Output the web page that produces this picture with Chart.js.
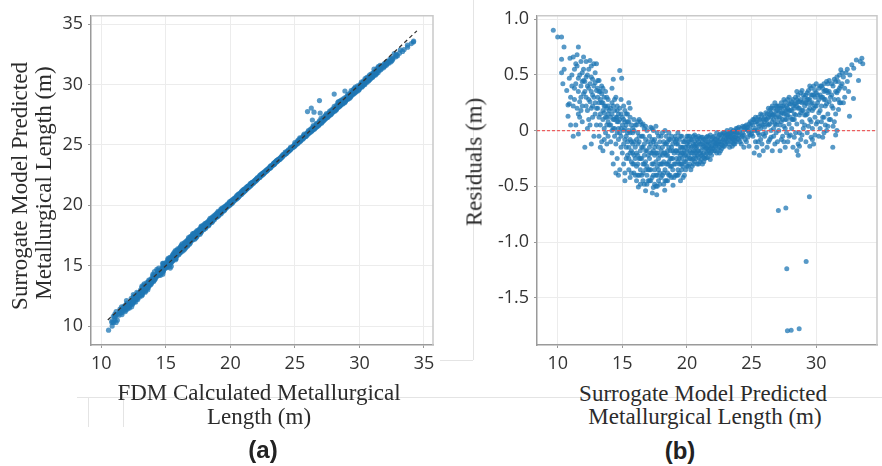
<!DOCTYPE html>
<html>
<head>
<meta charset="utf-8">
<script src="https://cdn.jsdelivr.net/npm/chart.js@4.4.1/dist/chart.umd.min.js"></script>
<style>
  body { margin: 0; background: #fff; }
  #wrap { position: relative; width: 882px; height: 466px; overflow: hidden; }
  canvas { position: absolute; top: 0; }
  .ttl { position: absolute; font-family: "Liberation Serif", "Times New Roman", serif; font-size: 23px; color: #2b2b2b; white-space: nowrap; line-height: 1; transform: translate(-50%, -50%); }
  .rot { transform: translate(-50%, -50%) rotate(-90deg); }
  .lab { position: absolute; font-family: "Liberation Sans", Arial, sans-serif; font-weight: bold; font-size: 24px; color: #222; transform: translate(-50%, -50%); }
  .ln { position: absolute; background: #e4e4e4; }
</style>
</head>
<body>
<div id="wrap">
  <div class="ln" style="left:77px;top:397px;width:805px;height:1px"></div>
  <div class="ln" style="left:88px;top:397px;width:1px;height:30px"></div>
  <div class="ln" style="left:123px;top:397px;width:1px;height:30px"></div>
  <div class="ln" style="left:473px;top:0px;width:1px;height:360px"></div>
  <div class="ln" style="left:440px;top:360px;width:33px;height:1px"></div>

  <canvas id="chartA" width="441" height="380" style="left:0"></canvas>
  <canvas id="chartB" width="441" height="380" style="left:441px"></canvas>

  <div class="ttl rot" style="left:19px;top:186px">Surrogate Model Predicted</div>
  <div class="ttl rot" style="left:43px;top:183px">Metallurgical Length (m)</div>
  <div class="ttl" style="left:259px;top:392px">FDM Calculated Metallurgical</div>
  <div class="ttl" style="left:259px;top:416px">Length (m)</div>

  <div class="ttl rot" style="left:474px;top:162px">Residuals (m)</div>
  <div class="ttl" style="left:703px;top:393px">Surrogate Model Predicted</div>
  <div class="ttl" style="left:705px;top:416px">Metallurgical Length (m)</div>

  <div class="lab" style="left:263px;top:450px">(a)</div>
  <div class="lab" style="left:680px;top:451px">(b)</div>
</div>
<script>
// [predicted length, residual]
const armLeft = [
  [9.66,0.90],[10.0,0.84],[10.3,0.84],[10.49,0.75],[10.3,0.64],[10.3,0.52],[10.5,0.55],[10.4,0.42],[10.7,0.36],[10.8,0.23],
  [10.95,0.65],[10.9,0.47],[11.0,0.30],[10.8,0.13],[11.1,0.40],[11.2,0.66],[11.0,0.05],[11.2,-0.05],[10.9,0.24],[11.3,0.55],
  [11.5,0.68],[11.6,0.75],[11.4,0.42],[11.3,0.28],[11.6,0.35],[11.7,0.50],[11.5,0.20],[11.8,0.62],[11.9,0.44],[11.4,0.05],
  [11.7,0.12],[11.6,-0.03],[12.0,0.66],[11.8,0.30],[11.9,0.22],[11.3,0.38],[11.5,0.58],[11.8,0.40],[12.0,0.55],[11.9,0.08],
  [11.6,0.47],[11.7,0.26],[11.2,0.22],[12.0,0.33],
  [12.2,0.62],[12.3,0.50],[12.5,0.63],[12.1,0.44],[12.4,0.38],[12.2,0.30],[12.6,0.58],[12.3,0.18],[12.5,0.26],[12.7,0.46],
  [12.8,0.60],[12.4,0.10],[12.6,0.35],[12.1,-0.15],[12.9,0.43],[12.7,0.22],[12.5,0.05],[12.8,0.30],[13.0,0.60],[12.9,0.15],
  [12.3,0.40],[12.6,0.48],[12.2,0.22],[12.8,-0.05],[12.4,0.28],[13.0,0.36],[12.7,0.12],[12.9,0.25],[12.6,-0.12],[12.3,0.02],
  [13.1,0.45],[13.2,0.35],[13.3,0.28],[13.1,0.20],[13.4,0.40],[13.5,0.18],[13.2,0.12],[13.6,0.30],[13.3,0.05],[13.7,0.22],
  [13.5,0.10],[13.8,0.20],[13.4,-0.10],[13.9,0.15],[13.6,0.02],[13.2,-0.05],[13.8,0.05],[13.5,0.25],[13.7,0.12],[13.9,0.28],
  [13.1,0.30],[13.3,-0.15],[13.6,-0.08],[13.8,-0.12],[14.0,0.18],[13.4,0.25],[13.7,-0.02],[13.9,0.08],[13.5,-0.18],[13.2,0.25],
  [13.6,0.16],[13.8,0.30],[14.0,0.05],[13.9,-0.05],[13.3,0.15],
  [11.1,0.50],[11.4,0.60],[11.6,0.15],[11.9,0.52],[12.1,0.35],[12.2,0.48],[12.4,0.55],[12.5,0.42],[12.7,0.32],[12.8,0.40],
  [12.9,0.52],[13.0,0.20],[13.1,0.38],[13.2,0.45],[13.4,0.33],[13.5,0.38],[13.6,0.22],[13.7,0.35],[13.8,0.12],[13.9,0.22],
  [12.0,0.45],[11.8,0.18],[12.6,0.20],[13.3,0.35],[13.0,0.05]
];
const troughA = [
  [14.1,0.20],[14.2,0.15],[14.3,0.10],[14.1,0.05],[14.4,0.18],[14.5,0.12],[14.3,0.46],[14.2,0.38],[14.6,0.08],[14.7,0.02],
  [14.8,0.54],[14.95,0.47],[14.4,-0.05],[14.5,-0.12],[14.6,0.22],[14.8,0.10],[14.9,0.15],[14.7,-0.08],[14.2,-0.20],[14.4,0.28],
  [14.3,-0.30],[14.6,-0.25],[14.8,-0.02],[14.9,-0.15],[15.0,0.05],[14.1,-0.10],[14.5,0.30],[14.7,0.15],[14.9,0.28],[14.4,0.02],
  [14.6,-0.02],[14.8,-0.35],[14.2,0.00],[14.3,0.22],[14.5,-0.38],[14.7,-0.40],[15.0,-0.20],[14.9,-0.05],[14.6,0.12],[14.1,0.12],
  [15.1,0.10],[15.2,0.02],[15.3,-0.05],[15.1,-0.12],[15.4,0.08],[15.5,0.00],[15.2,0.18],[15.6,-0.08],[15.7,0.05],[15.3,0.15],
  [15.8,-0.02],[15.5,-0.15],[15.9,0.10],[15.4,-0.22],[15.6,0.12],[15.7,-0.18],[15.8,-0.30],[15.1,-0.30],[15.2,-0.38],[15.9,-0.10],
  [15.3,-0.25],[15.5,0.25],[15.6,-0.42],[15.8,0.02],[15.4,-0.02],[15.7,-0.10],[15.9,-0.22],[16.0,0.05],[15.2,-0.45],[15.5,-0.35],
  [15.7,-0.28],[15.9,-0.38],[16.0,-0.15],[15.3,0.05],[15.6,-0.02],[15.1,0.22],[15.4,-0.10],[15.8,-0.12],[15.6,0.20],[15.9,0.00],
  [16.1,0.05],[16.2,-0.02],[16.3,-0.10],[16.1,-0.20],[16.4,0.08],[16.5,-0.05],[16.2,-0.30],[16.6,-0.15],[16.7,0.02],[16.3,-0.40],
  [16.8,-0.08],[16.5,-0.25],[16.9,-0.18],[16.4,-0.35],[16.6,-0.45],[16.7,-0.30],[16.24,-0.505],[16.8,-0.54],[16.9,-0.40],[16.1,-0.45],
  [16.3,0.10],[16.5,0.05],[16.7,-0.22],[16.9,0.00],[16.2,-0.12],[16.4,-0.18],[16.6,-0.05],[16.8,-0.28],[17.0,-0.10],[16.5,-0.40],
  [16.3,-0.25],[16.7,-0.48],[16.9,-0.32],[16.1,-0.08],[16.6,0.06],[16.4,-0.48],[16.8,0.04],[17.0,-0.35],[16.2,0.08],[16.6,-0.30],
  [17.1,-0.05],[17.2,-0.12],[17.3,0.02],[17.1,-0.25],[17.4,-0.18],[17.5,-0.08],[17.2,-0.35],[17.6,-0.28],[17.7,-0.02],[17.3,-0.42],
  [17.8,-0.15],[17.5,-0.48],[17.9,-0.22],[17.4,-0.30],[17.66,-0.575],[17.32,-0.56],[17.4,-0.51],[17.6,-0.40],[17.9,-0.38],[17.8,-0.05],
  [17.2,-0.20],[17.5,-0.15],[17.7,-0.32],[17.9,-0.10],[17.1,-0.45],[17.3,-0.08],[17.6,0.04],[17.8,-0.45],[18.0,-0.18],[17.4,0.00],
  [17.7,-0.50],[17.5,-0.22],[17.2,0.03],[17.9,-0.30],[17.6,-0.12],[17.8,-0.25],[17.3,-0.30],[18.0,-0.05],[17.1,-0.15],[17.7,-0.20],
  [18.1,-0.02],[18.2,-0.10],[18.28,-0.535],[18.3,-0.20],[18.4,-0.05],[18.5,-0.30],[18.1,-0.40],[18.6,-0.15],[18.7,-0.08],[18.3,-0.35],
  [18.8,-0.25],[18.92,-0.49],[18.5,-0.45],[18.9,-0.12],[18.4,-0.22],[18.6,-0.40],[18.7,-0.32],[18.2,-0.28],[18.8,-0.05],[18.5,-0.10],
  [19.0,-0.20],[18.1,-0.15],[18.3,0.00],[18.6,-0.02],[18.9,-0.35],[18.4,-0.45],[18.7,-0.18],[18.2,-0.48],[19.0,-0.42],[18.8,-0.15],
  [18.5,-0.18],[18.6,-0.28],[18.9,-0.25],[18.3,-0.12],[18.7,-0.40],[18.1,-0.30],[19.0,-0.08],[18.4,-0.30],[18.8,-0.32],[18.2,-0.20],
  [14.2,0.25],[14.4,0.10],[14.6,0.18],[14.8,0.20],[14.9,0.02],[15.0,0.12],[15.1,0.00],[15.2,-0.08],[15.3,-0.15],[15.4,0.15],
  [15.5,0.08],[15.6,-0.20],[15.7,-0.38],[15.8,-0.20],[15.9,-0.30],[16.0,-0.25],[16.0,-0.40],[16.1,-0.32],[16.2,-0.22],[16.3,-0.05],
  [16.4,-0.25],[16.5,-0.15],[16.6,-0.38],[16.7,-0.12],[16.8,-0.18],[16.9,-0.48],[17.0,-0.22],[17.0,-0.45],[17.1,-0.35],[17.2,-0.45],
  [17.3,-0.20],[17.4,-0.40],[17.5,-0.35],[17.6,-0.20],[17.7,-0.40],[17.8,-0.35],[17.9,-0.48],[18.0,-0.30],[18.0,-0.42],[18.1,-0.22],
  [18.2,-0.38],[18.3,-0.45],[18.4,-0.12],[18.5,-0.38],[18.6,-0.08],[18.7,-0.25],[18.8,-0.42],[18.9,-0.18],[14.3,0.02],[14.7,0.08],
  [15.2,0.08],[15.5,-0.25],[16.2,-0.40],[17.4,-0.10],[18.5,-0.22],[16.8,-0.35],[17.6,-0.50]
];
const troughB = [
  [19.1,-0.05],[19.2,-0.12],[19.3,-0.20],[19.1,-0.30],[19.4,-0.08],[19.5,-0.15],[19.2,-0.40],[19.6,-0.25],[19.7,-0.10],[19.3,-0.35],
  [19.8,-0.18],[19.5,-0.30],[19.9,-0.22],[19.4,-0.25],[19.6,-0.05],[19.7,-0.32],[19.8,-0.40],[19.9,-0.08],[19.1,-0.18],[19.2,-0.25],
  [19.3,-0.02],[19.5,-0.45],[19.6,-0.15],[19.8,-0.28],[20.0,-0.12],[19.4,-0.38],[19.7,-0.20],[19.9,-0.35],[20.0,-0.25],[19.2,-0.08],
  [19.5,-0.05],[19.6,-0.35],[19.8,-0.10],[19.3,-0.28],[19.7,-0.42],[19.9,-0.15],[19.4,-0.18],[19.1,-0.10],[20.0,-0.05],[19.6,-0.20],
  [19.0,-0.30],[19.1,-0.40],[19.2,-0.18],[19.3,-0.12],[19.4,-0.30],[19.5,-0.22],[19.6,-0.30],[19.7,-0.15],[19.8,-0.22],[19.9,-0.28],
  [20.0,-0.32],[20.0,-0.18],[19.3,-0.40],
  [20.1,-0.05],[20.2,-0.10],[20.3,-0.15],[20.1,-0.22],[20.4,-0.08],[20.5,-0.12],[20.2,-0.30],[20.6,-0.18],[20.7,-0.06],[20.3,-0.35],
  [20.8,-0.14],[20.5,-0.25],[20.9,-0.10],[20.4,-0.20],[20.6,-0.28],[20.7,-0.15],[20.8,-0.22],[20.9,-0.30],[20.1,-0.14],[20.2,-0.18],
  [20.4,-0.32],[20.5,-0.05],[20.6,-0.10],[20.8,-0.08],[21.0,-0.12],[20.3,-0.08],[20.7,-0.25],[20.9,-0.18],[21.0,-0.20],[20.2,-0.25],
  [20.5,-0.18],[20.6,-0.22],[20.8,-0.30],[20.3,-0.25],[20.7,-0.12],[20.9,-0.05],[20.4,-0.14],[20.1,-0.32],[21.0,-0.28],[20.6,-0.04],
  [20.1,-0.10],[20.2,-0.05],[20.3,-0.20],[20.4,-0.26],[20.5,-0.30],[20.6,-0.14],[20.7,-0.20],[20.8,-0.18],[20.9,-0.24],[21.0,-0.07],
  [21.1,-0.06],[21.2,-0.10],[21.3,-0.14],[21.1,-0.18],[21.4,-0.08],[21.5,-0.12],[21.2,-0.22],[21.6,-0.16],[21.7,-0.06],[21.3,-0.28],
  [21.8,-0.12],[21.5,-0.20],[21.9,-0.08],[21.4,-0.16],[21.6,-0.24],[21.7,-0.14],[21.8,-0.20],[21.9,-0.14],[21.1,-0.12],[21.2,-0.15],
  [21.4,-0.25],[21.5,-0.06],[21.6,-0.10],[21.8,-0.04],[22.0,-0.10],[21.3,-0.08],[21.7,-0.18],[21.9,-0.22],[22.0,-0.16],[21.2,-0.30],
  [21.5,-0.16],[21.6,-0.05],[21.8,-0.26],[21.3,-0.20],[21.1,-0.26],
  [21.1,-0.22],[21.2,-0.06],[21.3,-0.24],[21.4,-0.12],[21.5,-0.24],[21.6,-0.20],[21.7,-0.10],[21.8,-0.16],[21.9,-0.18],[22.0,-0.06],
  [22.1,-0.05],[22.2,-0.08],[22.3,-0.12],[22.1,-0.14],[22.4,-0.06],[22.5,-0.10],[22.2,-0.18],[22.6,-0.12],[22.7,-0.04],[22.3,-0.20],
  [22.8,-0.08],[22.5,-0.15],[22.9,-0.06],[22.4,-0.12],[22.6,-0.18],[22.7,-0.10],[22.8,-0.14],[22.9,-0.10],[22.1,-0.10],[22.3,-0.02],
  [22.5,-0.04],[22.6,-0.07],[22.8,-0.02],[23.0,-0.08],[22.2,-0.12],[22.4,-0.16],[22.7,-0.16],[22.9,-0.14],[23.0,-0.04],[22.5,-0.20],
  [22.1,-0.18],[22.2,-0.14],[22.3,-0.08],[22.4,-0.10],[22.6,-0.03],[22.7,-0.13],[22.9,-0.02],[23.0,-0.12],
  [23.1,-0.04],[23.2,-0.08],[23.3,-0.02],[23.1,-0.10],[23.4,-0.06],[23.5,-0.03],[23.2,-0.12],[23.6,-0.08],[23.7,-0.01],[23.3,-0.15],
  [23.8,-0.05],[23.5,-0.10],[23.9,-0.02],[23.4,0.01],[23.6,-0.12],[23.7,-0.06],[23.8,-0.10],[23.9,0.02],[23.1,0.00],[23.3,-0.06],
  [23.5,-0.14],[23.6,0.00],[23.8,0.02],[24.0,-0.04],[23.2,-0.03],[23.4,-0.10],[23.7,-0.12],[23.9,-0.07],[24.0,0.03],[23.6,-0.04],
  [23.2,-0.06],[23.4,-0.02],[23.5,-0.07],[23.7,-0.09],[23.8,-0.01],[24.0,-0.08]
];
const armRight = [
  [24.1,-0.02],[24.2,0.02],[24.3,-0.05],[24.4,0.03],[24.5,-0.08],[24.6,0.05],[24.7,0.00],[24.8,0.06],[24.9,-0.04],[24.1,-0.10],
  [24.3,0.04],[24.5,0.01],[24.7,-0.06],[24.9,0.04],[25.0,0.07],[24.2,-0.12],[24.4,-0.04],[24.6,-0.10],[24.8,-0.02],[24.4,-0.15],
  [24.6,0.02],[24.8,-0.14],[25.0,-0.03],[24.3,-0.02],[24.9,0.08],[24.2,-0.06],[24.5,0.04],[24.7,0.03],[25.0,0.00],
  [25.1,0.05],[25.2,0.10],[25.3,0.02],[25.4,0.08],[25.5,0.12],[25.6,0.04],[25.7,0.15],[25.8,0.06],[25.9,0.10],[25.1,-0.05],
  [25.3,-0.10],[25.5,-0.02],[25.7,-0.08],[25.9,-0.03],[26.0,0.12],[25.2,-0.20],[25.4,-0.15],[25.6,-0.22],[25.8,-0.12],[25.4,0.00],
  [25.6,0.10],[25.8,0.14],[26.0,-0.05],[25.3,0.08],[25.9,-0.18],[25.5,-0.10],[25.7,0.02],[25.2,0.00],[25.6,-0.04],[26.0,0.03],
  [25.1,0.10],[25.3,0.12],[25.5,0.06],[25.7,0.10],[25.9,0.05],[26.0,0.08],
  [26.1,0.10],[26.2,0.15],[26.3,0.05],[26.4,0.18],[26.5,0.12],[26.6,0.08],[26.7,0.20],[26.8,0.14],[26.9,0.22],[26.1,-0.02],
  [26.3,-0.10],[26.5,0.00],[26.7,-0.05],[26.9,0.05],[27.0,0.18],[26.2,-0.15],[26.4,-0.08],[26.6,-0.18],[26.8,-0.12],[26.4,0.06],
  [26.6,0.22],[26.8,0.25],[27.0,0.08],[26.3,0.20],[26.9,-0.02],[26.5,-0.06],[26.7,0.10],[26.2,0.06],[26.6,0.14],[27.0,-0.10],
  [26.5,0.20],[26.9,0.12],[26.1,0.16],[26.7,0.02],[26.3,0.12],
  [26.2,0.10],[26.4,0.14],[26.5,0.16],[26.7,0.15],[26.8,0.06],[26.9,0.18],[27.0,0.22],
  [27.1,0.12],[27.2,0.20],[27.3,0.08],[27.4,0.22],[27.5,0.15],[27.6,0.26],[27.7,0.10],[27.8,0.28],[27.9,0.18],[27.1,0.00],
  [27.3,-0.08],[27.5,0.04],[27.7,-0.02],[27.9,0.06],[28.0,0.24],[27.2,-0.18],[27.4,-0.05],[27.6,-0.15],[27.8,-0.10],[27.4,0.10],
  [27.6,0.18],[27.8,0.20],[28.0,0.12],[27.3,0.25],[27.9,-0.05],[27.5,-0.10],[27.7,0.22],[27.2,0.05],[27.6,0.02],[28.0,-0.04],
  [27.5,0.28],[27.9,0.30],[27.1,0.22],[27.7,0.14],[27.3,0.16],
  [27.1,0.16],[27.2,0.12],[27.3,0.20],[27.4,0.16],[27.5,0.22],[27.6,0.10],[27.7,0.18],[27.8,0.14],[27.9,0.24],[28.0,0.18],
  [28.1,0.18],[28.2,0.28],[28.3,0.10],[28.4,0.30],[28.5,0.22],[28.6,0.32],[28.7,0.14],[28.8,0.34],[28.9,0.25],[28.1,0.02],
  [28.3,-0.06],[28.5,0.06],[28.7,-0.02],[28.9,0.08],[29.0,0.32],[28.2,-0.15],[28.4,-0.02],[28.6,-0.12],[28.8,-0.08],[28.4,0.14],
  [28.6,0.20],[28.8,0.16],[29.0,0.18],[28.3,0.24],[28.9,-0.04],[28.5,-0.18],[28.7,0.26],[28.2,0.10],[28.6,-0.22],[29.0,0.02],
  [28.5,0.35],[28.9,0.36],[28.1,0.26],[28.7,-0.14],[28.3,0.20],
  [28.1,0.10],[28.2,0.22],[28.3,0.15],[28.4,0.24],[28.5,0.28],[28.6,0.26],[28.7,0.20],[28.8,0.28],[28.9,0.18],[29.0,0.26],
  [29.1,0.22],[29.2,0.32],[29.3,0.15],[29.4,0.36],[29.5,0.28],[29.6,0.38],[29.7,0.18],[29.8,0.40],[29.9,0.30],[29.1,0.05],
  [29.3,-0.02],[29.5,0.10],[29.7,0.02],[29.9,0.12],[30.0,0.42],[29.2,-0.10],[29.4,0.04],[29.6,-0.06],[29.8,-0.12],[29.4,0.18],
  [29.6,0.24],[29.8,0.20],[30.0,0.22],[29.3,0.28],[29.9,-0.04],[29.5,-0.14],[29.7,0.32],[29.2,0.14],[29.6,0.08],[30.0,0.06],
  [29.5,0.40],[29.9,0.36],[29.1,0.30],[29.7,-0.08],[29.3,0.24],
  [29.1,0.14],[29.2,0.25],[29.3,0.34],[29.4,0.28],[29.5,0.20],[29.6,0.32],[29.7,0.25],[29.8,0.32],[29.9,0.22],[30.0,0.34],
  [30.1,0.25],[30.2,0.38],[30.3,0.18],[30.4,0.40],[30.5,0.30],[30.6,0.42],[30.7,0.22],[30.8,0.44],[30.9,0.34],[30.1,0.08],
  [30.3,0.02],[30.5,0.12],[30.7,0.05],[30.9,0.15],[31.0,0.45],[30.2,-0.05],[30.4,0.08],[30.6,-0.02],[30.8,0.00],[30.4,0.22],
  [30.6,0.28],[30.8,0.24],[31.0,0.26],[30.3,0.32],[30.9,0.04],[30.5,-0.06],[30.7,0.36],[30.2,0.16],[30.6,0.12],[31.0,0.10],
  [30.1,0.32],[30.2,0.28],[30.3,0.40],[30.4,0.30],[30.5,0.38],[30.6,0.35],[30.7,0.28],[30.8,0.36],[30.9,0.42],[31.0,0.35],
  [31.1,0.30],[31.2,0.42],[31.3,0.20],[31.4,0.46],[31.5,0.35],[31.6,0.48],[31.7,0.28],[31.8,0.50],[31.9,0.40],[31.1,0.10],
  [31.28,-0.15],[31.3,0.04],[31.5,0.15],[31.6,0.00],[31.72,0.19],[31.9,0.546],[31.2,0.22],[31.4,0.08],[31.6,0.34],[31.8,0.38],
  [31.5,-0.04],[31.7,0.44],[32.0,0.52],[31.4,0.28],[31.9,0.25],[31.2,0.32],[31.3,0.40],[31.5,0.44],[31.7,0.36],[31.8,0.25],
  [32.0,0.42],
  [32.1,0.48],[32.2,0.38],[32.3,0.52],[32.4,0.44],[32.57,0.13],[32.75,0.59],[32.88,0.288],[32.6,0.50],[32.5,0.35],[32.2,0.30],
  [33.1,0.634],[33.27,0.45],[33.53,0.65],[33.6,0.60],[33.4,0.62],[32.9,0.56],[32.1,0.25],[32.4,0.55]
];
const outliers = [
  [27.07,-0.716],[27.65,-0.693],[29.47,-0.593],[27.72,-1.24],[29.22,-1.175],[27.77,-1.795],[28.06,-1.79],[28.68,-1.777]
];

// reference lines and axis settings
const refLine = [10.5, 34.45];        // y = x, panel (a)
const xRangeA = [9.2, 35.7];
const yRangeA = [8.43, 35.7];
const xRangeB = [8.4, 34.7];
const yRangeB = [-1.923, 1.03];
const ticksA = [10, 15, 20, 25, 30, 35];
const ticksB = [-1.5, -1.0, -0.5, 0, 0.5, 1.0];

const allPts = [].concat(armLeft, troughA, troughB, armRight, outliers);
// panel (a): FDM calculated = predicted + residual
const ptsA = allPts.map(p => ({ x: p[0] + p[1], y: p[0] }));
const ptsB = allPts.map(p => ({ x: p[0], y: p[1] }));

const dotColor = 'rgba(31,119,180,0.75)';
const tickFont = { family: "'Open Sans', sans-serif", size: 18 };

const frame = {
  id: 'frame',
  beforeDatasetsDraw(chart) {
    const a = chart.chartArea, ctx = chart.ctx;
    ctx.save();
    ctx.strokeStyle = '#c9c9c9';
    ctx.lineWidth = 1.5;
    ctx.beginPath();
    ctx.moveTo(a.left, a.top);
    ctx.lineTo(a.right, a.top);
    ctx.lineTo(a.right, a.bottom);
    ctx.stroke();
    ctx.restore();
  }
};

function axis(range, ticks, fmt, fit) {
  return {
    type: 'linear',
    min: range[0],
    max: range[1],
    afterBuildTicks: s => { s.ticks = ticks.filter(v => v >= range[0] && v <= range[1]).map(v => ({ value: v })); },
    afterFit: fit,
    grid: { color: '#ececec', lineWidth: 1, tickLength: 3, tickColor: '#999' },
    border: { color: '#9a9a9a', width: 1.5 },
    ticks: { font: tickFont, color: '#333', padding: 5, callback: fmt }
  };
}

Chart.defaults.animation = false;

new Chart(document.getElementById('chartA'), {
  type: 'scatter',
  data: {
    datasets: [
      {
        type: 'line',
        data: refLine.map(v => ({ x: v, y: v })),
        borderColor: '#333',
        borderWidth: 1.3,
        borderDash: [4, 3],
        pointRadius: 0,
        fill: false
      },
      {
        data: ptsA,
        backgroundColor: dotColor,
        borderWidth: 0,
        pointRadius: 2.6
      }
    ]
  },
  options: {
    responsive: false,
    devicePixelRatio: 1,
    layout: { padding: { left: 0, top: 10, right: 8, bottom: 0 } },
    plugins: { legend: { display: false }, tooltip: { enabled: false } },
    scales: {
      x: Object.assign(axis(xRangeA, ticksA, v => v, s => { s.height = 35; }), { position: 'bottom' }),
      y: Object.assign(axis(yRangeA, ticksA, v => v, s => { s.width = 91; }), { position: 'left' })
    }
  },
  plugins: [frame]
});

const zeroLine = [xRangeB[0], xRangeB[1]];

new Chart(document.getElementById('chartB'), {
  type: 'scatter',
  data: {
    datasets: [
      {
        type: 'line',
        data: zeroLine.map(v => ({ x: v, y: 0 })),
        borderColor: 'rgba(235,80,80,0.9)',
        borderWidth: 1.2,
        borderDash: [3, 2],
        pointRadius: 0,
        fill: false
      },
      {
        data: ptsB,
        backgroundColor: dotColor,
        borderWidth: 0,
        pointRadius: 2.5
      }
    ]
  },
  options: {
    responsive: false,
    devicePixelRatio: 1,
    layout: { padding: { left: 0, top: 10, right: 5, bottom: 0 } },
    plugins: { legend: { display: false }, tooltip: { enabled: false } },
    scales: {
      x: Object.assign(axis(xRangeB, ticksA, v => v, s => { s.height = 35; }), { position: 'bottom' }),
      y: Object.assign(axis(yRangeB, ticksB, v => (v === 0 ? '0' : v.toFixed(1)), s => { s.width = 96; }), { position: 'left' })
    }
  },
  plugins: [frame]
});
</script>
</body>
</html>
